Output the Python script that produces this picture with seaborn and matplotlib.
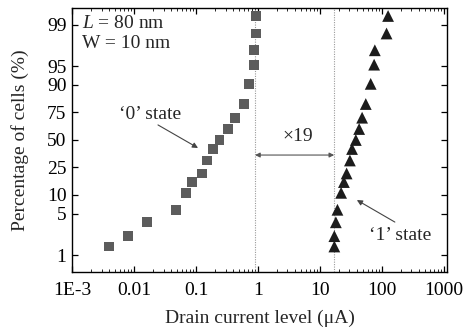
import matplotlib
matplotlib.use("Agg")
import matplotlib.pyplot as plt
import matplotlib.ticker as mticker
import seaborn as sns
import numpy as np
import pandas as pd

# ---- data ----
percent = [99.3, 98.6, 97.3, 95.3, 90.4, 80.8, 70.9, 60.8, 50.0, 41.1,
           30.6, 20.8, 15.7, 10.8, 5.8, 3.6, 2.1, 1.4]
state0_current = [0.93, 0.93, 0.86, 0.86, 0.72, 0.59, 0.43, 0.33, 0.24, 0.19,
                  0.15, 0.125, 0.087, 0.069, 0.048, 0.016, 0.008, 0.004]
state1_current = [126, 119, 77, 75, 66, 55, 48, 43, 38, 33,
                  30.5, 27, 24.4, 22, 19.2, 18.1, 17.1, 17.1]
x_ticks = [1e-3, 1e-2, 1e-1, 1, 10, 100, 1000]
x_tick_labels = ["1E-3", "0.01", "0.1", "1", "10", "100", "1000"]
y_ticks = [1, 5, 10, 25, 50, 75, 90, 95, 99]
ratio_lines = [0.9, 17.0]

sns.set_style("ticks")
plt.rcParams["font.family"] = ["Liberation Serif", "DejaVu Serif"]
plt.rcParams["mathtext.fontset"] = "custom"
plt.rcParams["mathtext.rm"] = "Liberation Serif"
plt.rcParams["mathtext.it"] = "Liberation Serif:italic"

df0 = pd.DataFrame({"current": state0_current, "frac": np.array(percent) / 100})
df1 = pd.DataFrame({"current": state1_current, "frac": np.array(percent) / 100})

fig = plt.figure(figsize=(4.66, 3.29), dpi=100)
ax = fig.add_axes([0.1545, 0.1733, 0.8045, 0.8024])

for xv in ratio_lines:
    ax.axvline(xv, color="#9a9a9a", lw=0.8, ls=(0, (1, 1.2)), zorder=1)

sns.scatterplot(data=df0, x="current", y="frac", marker="s", s=50,
                color="#5c5c5c", edgecolor="none", ax=ax, zorder=3)
sns.scatterplot(data=df1, x="current", y="frac", marker="^", s=72,
                color="#1c1c1c", edgecolor="none", ax=ax, zorder=3)

ax.set_xscale("log")
ax.set_yscale("logit")
ax.set_xlim(1e-3, 1.12e3)
ax.set_ylim(0.0051, 0.9949)

ax.set_xticks(x_ticks)
ax.set_xticklabels(x_tick_labels)
ax.xaxis.set_minor_locator(mticker.LogLocator(base=10, subs=np.arange(2, 10)))
ax.xaxis.set_minor_formatter(mticker.NullFormatter())

ax.yaxis.set_major_locator(mticker.FixedLocator([v / 100 for v in y_ticks]))
ax.yaxis.set_major_formatter(mticker.FixedFormatter([str(v) for v in y_ticks]))
ax.yaxis.set_minor_locator(mticker.NullLocator())

ax.tick_params(axis="both", which="major", direction="in", length=4, width=0.9,
               top=True, right=True, labelsize=14, colors="black", pad=4)
ax.tick_params(axis="x", which="major", pad=7)
ax.tick_params(axis="x", which="minor", direction="in", length=2, width=0.7,
               top=True, bottom=True)
for sp in ax.spines.values():
    sp.set_linewidth(1.0)
    sp.set_color("black")

ax.set_xlabel("Drain current level (μA)", fontsize=14, labelpad=8)
ax.set_ylabel("Percentage of cells (%)", fontsize=14, labelpad=13)

ax.text(0.027, 0.943, "$L$ = 80 nm", transform=ax.transAxes, fontsize=14,
        ha="left", va="center")
ax.text(0.027, 0.867, "W = 10 nm", transform=ax.transAxes, fontsize=14,
        ha="left", va="center")

arrow_kw = dict(arrowstyle="-|>", color="#444444", lw=0.8, mutation_scale=8,
                shrinkA=0, shrinkB=0)
ax.text(0.0181, 0.731, "‘0’ state", fontsize=14, ha="center", va="center")
ax.annotate("", xy=(0.108, 0.421), xytext=(0.0244, 0.646), arrowprops=arrow_kw)

ax.text(195, 0.0219, "‘1’ state", fontsize=14, ha="center", va="center")
ax.annotate("", xy=(39.5, 0.0832), xytext=(162, 0.0363), arrowprops=arrow_kw)

ax.text(4.42, 0.53, "×19", fontsize=14, ha="center", va="center")
ax.annotate("", xy=(ratio_lines[0], 0.354), xytext=(ratio_lines[1], 0.354),
            arrowprops=dict(arrowstyle="<|-|>", color="#555555", lw=0.8,
                            mutation_scale=7, shrinkA=0, shrinkB=0))

fig.savefig("out.png", dpi=100)
